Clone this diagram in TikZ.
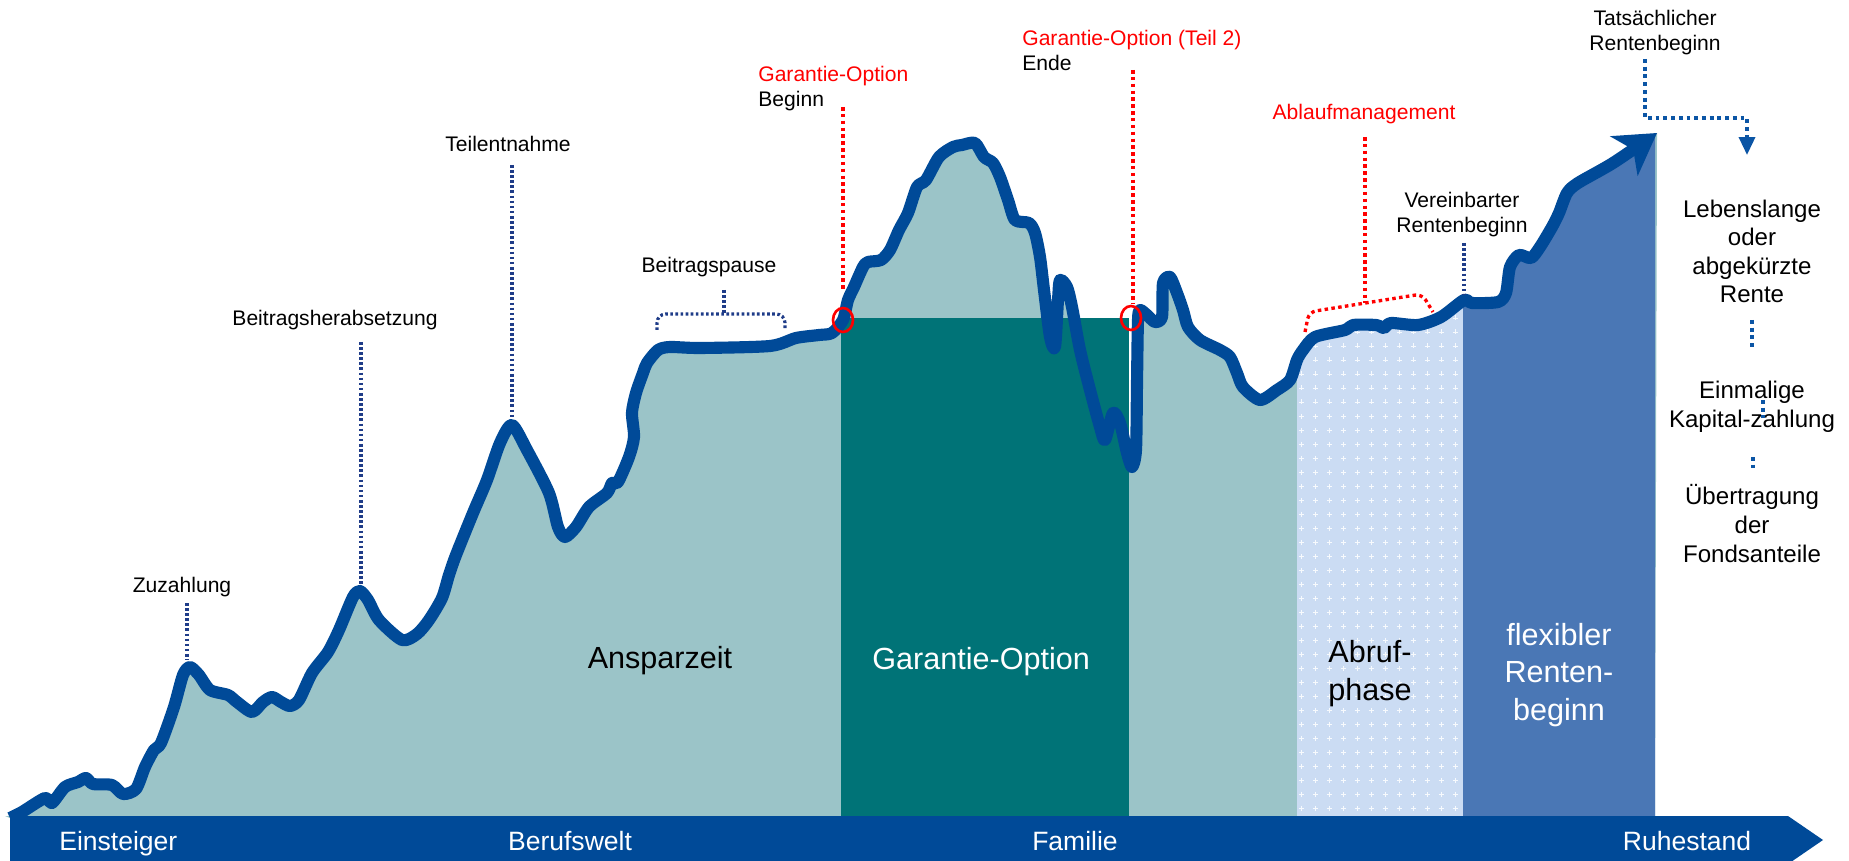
\documentclass[tikz,border=0pt]{standalone}
\usepackage{fontspec}
\setmainfont{Liberation Sans}
\usetikzlibrary{arrows.meta}
\definecolor{kurveblau}{HTML}{004A98}
\definecolor{ansparteal}{HTML}{9BC4C8}
\definecolor{garantieteal}{HTML}{007377}
\definecolor{flexblau}{HTML}{4A77B5}
\definecolor{abrufblau}{HTML}{CBDCF3}
\definecolor{navy}{HTML}{1F3C88}
\definecolor{hellblau}{HTML}{0B55A5}
\definecolor{rot}{HTML}{FF0000}
% #1 path options, #2 what follows the curve
\newcommand{\kurvenpfad}[2]{\path[#1] (10,818) -- plot[smooth,tension=0.45] coordinates {
  (10,818) (22,812) (45,798) (52,803) (65,787) (78,782) (86,778) (93,784)
  (112,785) (123,794) (136,789) (145,767) (154,750) (161,743) (174,707)
  (183,675) (190,667) (199,675) (210,690) (228,695) (237,702) (252,712)
  (263,702) (272,697) (281,702) (290,706) (299,700) (312,673) (328,652)
  (339,630) (353,597) (360,591) (368,600) (379,620) (402,640) (417,634)
  (429,620) (442,598) (449,575) (456,555) (473,513) (487,480) (500,443)
  (512,425) (527,450) (549,493) (558,527) (565,537) (576,527) (589,507)
  (607,493) (612,483) (618,482) (629,457) (634,437) (632,413) (636,393)
  (643,373) (647,363) (658,350) (670,347) (700,348) (770,346) (796,338)
  (819,335) (832,333) (843,320) (848,300) (854,287) (863,267) (868,262)
  (881,260) (890,250) (899,230) (908,213) (917,187) (926,180) (939,157)
  (953,147) (962,145) (975,143) (984,157) (993,163) (1000,177) (1008,200)
  (1015,220) (1029,223) (1035,233) (1040,257) (1044,290) (1050,337)
  (1055,347) (1058,300) (1060,280) (1067,287) (1072,307) (1080,350)
  (1090,390) (1100,427) (1105,440) (1113,413) (1120,423) (1127,453)
  (1132,467) (1136,450) (1137,383) (1138,320) (1140,310) (1147,315)
  (1155,322) (1162,317) (1163,283) (1170,277) (1177,293) (1183,310)
  (1188,327) (1200,340) (1220,350) (1230,357) (1237,373) (1243,387)
  (1260,400) (1277,390) (1290,380) (1297,360) (1303,350) (1315,337)
  (1345,330) (1353,325) (1376,325) (1384,328) (1391,323) (1418,325)
  (1441,317) (1464,300) (1472,303) (1498,302) (1506,293) (1510,267)
  (1519,255) (1531,258) (1540,247) (1552,227) (1559,213) (1567,193)
  (1578,183) (1613,163) (1657,133)} #2;}

\begin{document}
\begin{tikzpicture}[x=0.02cm, y=-0.02cm,
    lbl/.style={inner sep=0pt, font=\fontsize{12}{14.3}\selectfont},
    gross/.style={inner sep=0pt, font=\fontsize{17.4}{21.3}\selectfont},
    leiste/.style={inner sep=0pt, text=white, font=\fontsize{15.1}{18}\selectfont},
    wahl/.style={inner sep=0pt, align=center, font=\fontsize{13.7}{16.3}\selectfont},
    navydots/.style={navy, line width=1.8pt, dash pattern=on 1.5pt off 1.4pt},
    blaudots/.style={hellblau, line width=2pt, dash pattern=on 2.2pt off 2.2pt},
    rotdots/.style={rot, line width=1.9pt, dash pattern=on 2pt off 1.9pt}]
  \useasboundingbox (0,0) rectangle (1849,861);

  % areas below the curve
  \kurvenpfad{fill=ansparteal}{-- (1655,816) -- (5,816) -- cycle}
  \begin{scope}
    \clip (1297,0) rectangle (1463,816);
    \kurvenpfad{clip}{-- (1655,816) -- (5,816) -- cycle}
    \fill[abrufblau] (1297,0) rectangle (1463,816);
    \foreach \i in {0,...,12}
      \foreach \j in {0,...,37}
        \draw[white!85!abrufblau, line width=0.45pt] (1301+14*\i,290+14*\j)
          +(-2.5,0) -- +(2.5,0) +(0,-2.5) -- +(0,2.5);
  \end{scope}
  \begin{scope}
    \clip (1463,0) rectangle (1655,816);
    \kurvenpfad{fill=flexblau}{-- (1655,816) -- (5,816) -- cycle}
  \end{scope}
  \fill[garantieteal] (841,318) rectangle (1129,816);

  % curve and time bar
  \kurvenpfad{draw=kurveblau, line width=6.9pt, line join=round,
    -{Stealth[length=0.8cm,width=0.95cm,inset=0.22cm]}}{}
  \fill[kurveblau] (10,816) -- (1788,816) -- (1823,840) -- (1788,864)
    -- (10,864) -- cycle;

  \node[leiste, anchor=base west] (einsteiger) at (59,850) {Einsteiger};
  \node[leiste, anchor=base] (berufswelt) at (570,850) {Berufswelt};
  \node[leiste, anchor=base] (familie) at (1075,850) {Familie};
  \node[leiste, anchor=base] (ruhestand) at (1687,850) {Ruhestand};

  % phases
  \node[gross, anchor=base] (anspar) at (660,668) {Ansparzeit};
  \node[gross, anchor=base west, text=white] (garantie) at (872,669) {Garantie-Option};
  \node[gross, anchor=base west, align=left] (abruf) at (1328,700) {Abruf-\\phase};
  \node[gross, anchor=base, align=center, text=white] (flex) at (1559,720)
    {flexibler\\Renten-\\beginn};

  % events
  \node[lbl, anchor=base] (zuzahlung) at (182,592) {Zuzahlung};
  \node[lbl, anchor=base] (herab) at (335,326) {Beitragsherabsetzung};
  \node[lbl, anchor=base] (teil) at (508,152) {Teilentnahme};
  \node[lbl, anchor=base] (pause) at (709,273) {Beitragspause};
  \node[lbl, anchor=base west, align=left] (gbeginn) at (758,107)
    {\textcolor{rot}{Garantie-Option}\\Beginn};
  \node[lbl, anchor=base west, align=left] (gende) at (1022,71)
    {\textcolor{rot}{Garantie-Option (Teil 2)}\\Ende};
  \node[lbl, anchor=base, text=rot] (ablauf) at (1364,120) {Ablaufmanagement};
  \node[lbl, anchor=base, align=center] (vereinbart) at (1462,233)
    {Vereinbarter\\Rentenbeginn};
  \node[lbl, anchor=base, align=center] (tatsaechlich) at (1655,51)
    {Tatsächlicher\\Rentenbeginn};

  \node[wahl, anchor=base] (rente) at (1752,303) {Lebenslange\\oder\\abgekürzte\\Rente};
  \node[wahl, anchor=base] (kapital) at (1752,427) {Einmalige\\Kapital-zahlung};
  \node[wahl, anchor=base] (fonds) at (1752,562) {Übertragung\\der\\Fondsanteile};

  % marker lines
  \coordinate (zuTop) at (187,603);   \coordinate (zuPeak) at (187,660);
  \coordinate (heTop) at (361,342);   \coordinate (hePeak) at (361,585);
  \coordinate (teTop) at (512,165);   \coordinate (tePeak) at (512,417);
  \coordinate (veTop) at (1464,243);  \coordinate (veKurve) at (1464,294);
  \draw[navydots] (zuTop) -- (zuPeak);
  \draw[navydots] (heTop) -- (hePeak);
  \draw[navydots] (teTop) -- (tePeak);
  \draw[navydots] (veTop) -- (veKurve);
  \coordinate (paMitte) at (724,290);
  \draw[navydots, rounded corners=5pt] (657,330) -- (657,314) -- (785,314) -- (785,330);
  \draw[navydots] (paMitte) -- (724,314);

  \coordinate (gbTop) at (843,107);   \coordinate (gbKurve) at (843,290);
  \coordinate (geTop) at (1133,70);   \coordinate (geKurve) at (1133,303);
  \draw[rotdots] (gbTop) -- (gbKurve);
  \draw[rotdots] (geTop) -- (geKurve);
  \draw[rot, line width=1.5pt] (843,320) ellipse [x radius=0.2cm, y radius=0.24cm];
  \draw[rot, line width=1.5pt] (1131,318) ellipse [x radius=0.2cm, y radius=0.24cm];
  \coordinate (abTop) at (1365,137);  \coordinate (abKlammer) at (1365,303);
  \draw[rotdots, rounded corners=4pt] (1305,332) -- (1309,312) -- (1422,294) -- (1433,312);
  \draw[rotdots] (abTop) -- (abKlammer);

  \coordinate (ta1) at (1645,59);  \coordinate (ta2) at (1645,118);
  \coordinate (ta3) at (1747,118); \coordinate (ta4) at (1747,155);
  \draw[blaudots, -{Triangle[length=0.36cm,width=0.32cm]}] (ta1) -- (ta2) -- (ta3) -- (ta4);
  \coordinate (re1) at (1752,320); \coordinate (re2) at (1752,347);
  \coordinate (ka1) at (1763,400); \coordinate (ka2) at (1763,418);
  \coordinate (fo1) at (1753,457); \coordinate (fo2) at (1753,468);
  \draw[blaudots] (re1) -- (re2);
  \draw[blaudots] (ka1) -- (ka2);
  \draw[blaudots] (fo1) -- (fo2);
\end{tikzpicture}
\end{document}
